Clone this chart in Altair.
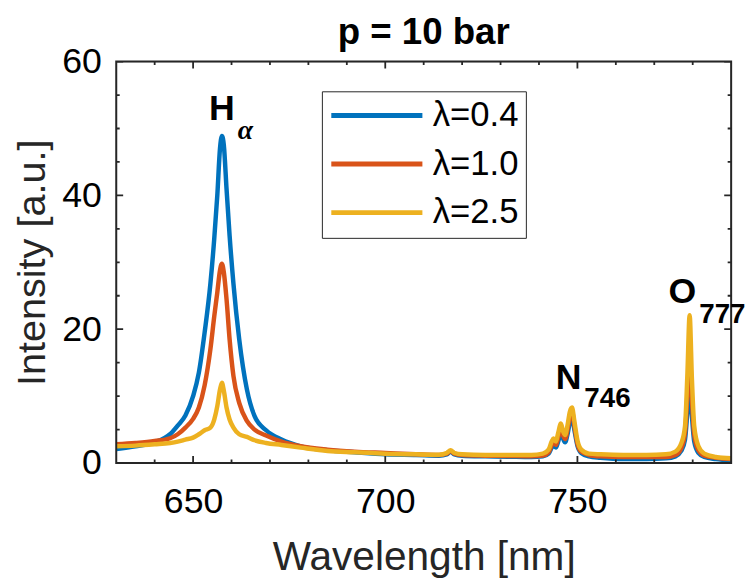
import altair as alt
import pandas as pd

# ---- data ----
wavelength = [630, 635, 640, 644, 646, 648, 650, 651.5, 653, 654.5, 655.5, 656.3, 657, 657.5, 658,
              658.7, 659.5, 660.5, 662, 664, 666, 669, 673, 678, 685, 692, 700, 708, 714, 716, 717,
              718, 720, 726, 732, 738, 741, 742.5, 743.3, 743.8, 744.4, 745, 745.7, 746.3, 746.8,
              747.5, 748, 748.6, 749.2, 750, 751, 753, 756, 762, 768, 773, 775.5, 777, 778, 778.6,
              779.2, 779.8, 780.4, 781.5, 783, 786, 790]

blue_04 = [2.1, 2.5, 3.1, 4.3, 5.6, 7.1, 10.0, 13.5, 19.5, 26.8, 33.5, 40.0, 47.0, 48.9, 47.5,
           41.0, 34.0, 26.8, 18.5, 11.0, 7.0, 4.9, 3.5, 2.5, 1.9, 1.6, 1.3, 1.2, 1.1, 1.3, 1.7,
           1.3, 1.1, 1.0, 0.95, 0.9, 1.0, 1.4, 2.3, 2.8, 2.3, 3.2, 4.6, 3.6, 3.1,
           4.5, 6.0, 7.0, 5.0, 2.6, 1.5, 1.0, 0.8, 0.6, 0.6, 0.7, 1.0, 1.8, 3.5, 7.5,
           12.0, 7.0, 3.2, 1.5, 0.9, 0.6, 0.4]

red_10 = [2.8, 3.0, 3.3, 3.7, 4.3, 5.3, 6.6, 8.3, 11.6, 17.0, 21.9, 25.5, 28.8, 29.8, 28.5,
          24.5, 18.5, 13.0, 9.0, 6.3, 5.0, 4.1, 3.2, 2.5, 2.0, 1.7, 1.5, 1.3, 1.2, 1.4, 1.8,
          1.4, 1.2, 1.1, 1.05, 1.0, 1.1, 1.6, 2.7, 3.3, 2.7, 3.8, 5.3, 4.1, 3.6,
          5.2, 6.8, 7.7, 5.6, 2.9, 1.7, 1.2, 1.0, 0.9, 0.9, 0.9, 1.2, 2.2, 4.5, 10.0,
          17.0, 9.5, 4.2, 1.9, 1.1, 0.8, 0.6]

yellow_25 = [2.5, 2.6, 2.8, 3.0, 3.2, 3.5, 3.8, 4.3, 4.9, 5.3, 6.5, 8.5, 11.0, 12.0, 10.8,
             8.3, 6.5, 5.3, 4.3, 3.9, 3.4, 3.0, 2.7, 2.3, 1.8, 1.6, 1.4, 1.3, 1.25, 1.5, 1.9,
             1.5, 1.3, 1.2, 1.2, 1.2, 1.4, 2.0, 3.2, 3.65, 3.2, 4.5, 5.9, 4.7, 4.2,
             5.9, 7.6, 8.3, 6.3, 3.4, 2.0, 1.4, 1.3, 1.2, 1.2, 1.3, 1.7, 2.9, 5.5, 13.0,
             22.1, 12.5, 5.5, 2.5, 1.4, 0.9, 0.7]

series_names = ["λ=0.4", "λ=1.0", "λ=2.5"]
series_colors = ["#0072BD", "#D95319", "#EDB120"]

x_domain = [630, 790]
y_domain = [0, 60]
x_major = [650, 700, 750]
x_minor = [640, 660, 670, 680, 690, 710, 720, 730, 740, 760, 770, 780]
y_major = [0, 20, 40, 60]
y_minor = [5, 10, 15, 25, 30, 35, 45, 50, 55]

title_text = ["p = 10 bar"]
title_x = [710]
title_y = [62.63]

ann_main = ["H", "N", "O"]
ann_main_x = [657.5, 747.7, 777.3]
ann_main_y = [51.2, 11.05, 23.9]
ann_sub = ["746", "777"]
ann_sub_x = [751.8, 781.7]
ann_sub_y = [8.4, 21.0]
ann_alpha = ["α"]
ann_alpha_x = [661.6]
ann_alpha_y = [48.5]

# ---- layout ----
W, H = 621, 405.4
FONT = "Liberation Sans"
AX = "#262626"

rows = []
for name, vals in zip(series_names, [blue_04, red_10, yellow_25]):
    for w, v in zip(wavelength, vals):
        rows.append({"wl": w, "I": v, "series": name})
df = pd.DataFrame(rows)

xs = alt.Scale(domain=x_domain, nice=False, zero=False)
ys = alt.Scale(domain=y_domain, nice=False)

main = alt.Chart(df).mark_line(strokeWidth=4.5, interpolate="monotone").encode(
    x=alt.X("wl:Q", scale=xs, axis=alt.Axis(
        values=x_major, ticks=False, tickSize=0, grid=False, labelPadding=22, labelFontSize=36,
        title="Wavelength [nm]", titleFontSize=41, titleFontWeight="normal", titleColor=AX,
        titleFont=FONT, titleY=107.3, titleBaseline="alphabetic", domain=False)),
    y=alt.Y("I:Q", scale=ys, axis=alt.Axis(
        values=y_major, ticks=False, tickSize=0, grid=False, labelPadding=15, labelFontSize=36,
        title="Intensity [a.u.]", titleFontSize=40, titleFontWeight="normal", titleColor=AX,
        titleFont=FONT, titleX=-72.5, titleY=H / 2, titleBaseline="alphabetic", domain=False)),
    color=alt.Color("series:N", scale=alt.Scale(domain=series_names, range=series_colors),
                    legend=alt.Legend(
                        orient="none", legendX=207.7, legendY=30, title=None,
                        symbolType="stroke", symbolSize=8464, symbolStrokeWidth=5,
                        labelFont=FONT, labelFontSize=35, labelColor="#000000",
                        labelOffset=8, padding=7, rowPadding=13, clipHeight=35,
                        strokeColor=AX, fillColor="white")),
)

# plot frame (box) drawn from the axis domains
df_box = pd.DataFrame({"x": [x_domain[0]], "x2": [x_domain[1]],
                       "y": [y_domain[0]], "y2": [y_domain[1]]})
box = alt.Chart(df_box).mark_rect(fillOpacity=0, stroke=AX, strokeWidth=2).encode(
    x=alt.X("x:Q", scale=xs), x2="x2:Q", y=alt.Y("y:Q", scale=ys), y2="y2:Q")

# inward axis ticks on all four sides (clipped to the plot area)
xt_major = pd.DataFrame([{"v": v, "e": e} for v in x_major for e in y_domain])
xt_minor = pd.DataFrame([{"v": v, "e": e} for v in x_minor for e in y_domain])
yt_major = pd.DataFrame([{"v": v, "e": e} for v in y_major for e in x_domain])
yt_minor = pd.DataFrame([{"v": v, "e": e} for v in y_minor for e in x_domain])


def xticks(d, size):
    return alt.Chart(d).mark_tick(orient="vertical", size=size, thickness=1.8, color=AX,
                                  opacity=1, clip=True).encode(
        x=alt.X("v:Q", scale=xs), y=alt.Y("e:Q", scale=ys))


def yticks(d, size):
    return alt.Chart(d).mark_tick(orient="horizontal", size=size, thickness=1.8, color=AX,
                                  opacity=1, clip=True).encode(
        x=alt.X("e:Q", scale=xs), y=alt.Y("v:Q", scale=ys))


ticks = [xticks(xt_major, 14), xticks(xt_minor, 7), yticks(yt_major, 14), yticks(yt_minor, 7)]

df_title = pd.DataFrame({"t": title_text, "x": title_x, "y": title_y})
df_main = pd.DataFrame({"t": ann_main, "x": ann_main_x, "y": ann_main_y})
df_sub = pd.DataFrame({"t": ann_sub, "x": ann_sub_x, "y": ann_sub_y})
df_alpha = pd.DataFrame({"t": ann_alpha, "x": ann_alpha_x, "y": ann_alpha_y})


def text_layer(d, **kw):
    return alt.Chart(d).mark_text(color="#000000", baseline="alphabetic", **kw).encode(
        x=alt.X("x:Q", scale=xs), y=alt.Y("y:Q", scale=ys), text="t:N")


txt_title = text_layer(df_title, font=FONT, fontSize=37, fontWeight="bold", align="center")
txt_main = text_layer(df_main, font=FONT, fontSize=36, fontWeight="bold", align="center")
txt_sub = text_layer(df_sub, font=FONT, fontSize=28, fontWeight="bold", align="left")
txt_alpha = text_layer(df_alpha, font="Liberation Serif", fontSize=28, fontWeight="bold",
                       fontStyle="italic", align="left")

chart = alt.layer(main, box, *ticks, txt_title, txt_main, txt_sub, txt_alpha).properties(
    width=W, height=H,
    autosize=alt.AutoSizeParams(type="none"),
    padding={"left": 109.3, "top": 51.3, "right": 14, "bottom": 114.3},
).configure_view(
    strokeWidth=0
).configure_axis(
    grid=False, labelFont=FONT, labelColor=AX, tickColor=AX
).configure(background="white")

chart.save("out.html", embed_options={"renderer": "svg", "actions": False})
